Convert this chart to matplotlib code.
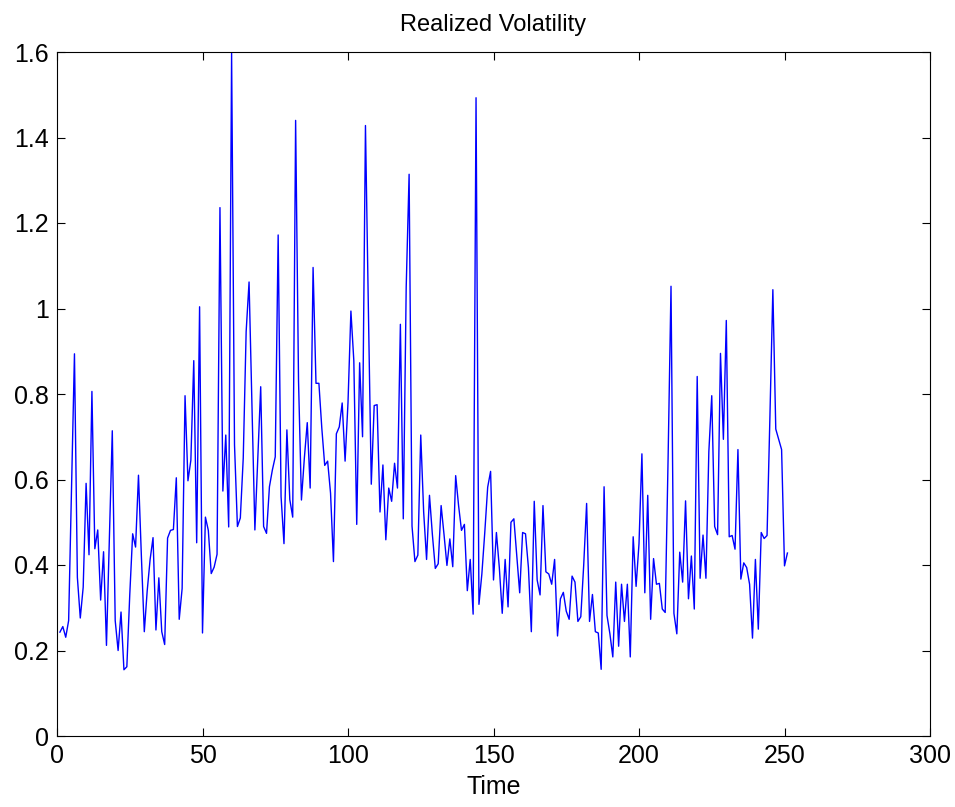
import matplotlib
matplotlib.use("Agg")
import matplotlib.pyplot as plt
import numpy as np
from matplotlib.ticker import FuncFormatter

plt.rcParams['font.family'] = ['Liberation Sans', 'DejaVu Sans']

title = "Realized Volatility"
xlabel = "Time"
xticks = [0, 50, 100, 150, 200, 250, 300]
yticks = [0, 0.2, 0.4, 0.6, 0.8, 1.0, 1.2, 1.4, 1.6]

vol_1_55 = [0.243, 0.256, 0.231, 0.27, 0.58, 0.894, 0.371, 0.276, 0.348, 0.591,
            0.424, 0.806, 0.438, 0.482, 0.318, 0.431, 0.212, 0.46, 0.714, 0.27,
            0.2, 0.29, 0.155, 0.162, 0.33, 0.473, 0.442, 0.61,
            0.42, 0.244, 0.34, 0.413, 0.464, 0.248, 0.37, 0.244, 0.214, 0.463,
            0.481, 0.483, 0.604, 0.273, 0.345, 0.796, 0.597, 0.645, 0.878, 0.452,
            1.004, 0.241, 0.512, 0.481, 0.38, 0.395, 0.425]
vol_56_111 = [1.236, 0.573, 0.704, 0.489, 1.597, 0.681, 0.49, 0.51, 0.65, 0.946,
              1.062, 0.77, 0.482, 0.65, 0.817, 0.49, 0.474, 0.583, 0.622, 0.653,
              1.172, 0.56, 0.45, 0.716, 0.553, 0.512, 1.44, 0.83,
              0.552, 0.65, 0.733, 0.58, 1.096, 0.825, 0.825, 0.72, 0.633, 0.643,
              0.568, 0.408, 0.707, 0.723, 0.779, 0.643, 0.78, 0.994, 0.878, 0.495,
              0.873, 0.70, 1.428, 1.0, 0.589, 0.773, 0.775, 0.524]
vol_112_166 = [0.634, 0.459, 0.58, 0.549, 0.638, 0.58, 0.963, 0.508, 1.05, 1.314,
               0.491, 0.408, 0.423, 0.704, 0.524, 0.413, 0.563, 0.471, 0.392, 0.403,
               0.539, 0.471, 0.399, 0.461, 0.396, 0.609, 0.539, 0.481,
               0.495, 0.34, 0.413, 0.285, 1.493, 0.308, 0.379, 0.476, 0.582, 0.619,
               0.365, 0.476, 0.394, 0.287, 0.413, 0.302, 0.5, 0.508, 0.423, 0.335,
               0.476, 0.473, 0.394, 0.244, 0.549, 0.365, 0.33]
vol_167_222 = [0.539, 0.384, 0.379, 0.355, 0.413, 0.234, 0.321, 0.336, 0.292, 0.273,
               0.374, 0.36, 0.268, 0.279, 0.40, 0.544, 0.268, 0.331, 0.244, 0.241,
               0.156, 0.583, 0.282, 0.239, 0.185, 0.36, 0.21, 0.355,
               0.268, 0.355, 0.185, 0.466, 0.35, 0.45, 0.66, 0.335, 0.563, 0.273,
               0.415, 0.355, 0.357, 0.297, 0.289, 0.65, 1.052, 0.287, 0.239, 0.43,
               0.36, 0.55, 0.321, 0.421, 0.297, 0.841, 0.369, 0.47]
vol_223_251 = [0.369, 0.665, 0.796, 0.49, 0.471, 0.895, 0.694, 0.972, 0.466, 0.469,
               0.437, 0.67, 0.367, 0.405, 0.394, 0.355, 0.229, 0.413, 0.25, 0.476,
               0.462, 0.469, 0.75, 1.044, 0.718, 0.694, 0.67, 0.398, 0.428]

volatility = vol_1_55 + vol_56_111 + vol_112_166 + vol_167_222 + vol_223_251
time = np.arange(1, len(volatility) + 1)

fig = plt.figure(figsize=(9.55, 8.07), dpi=100)
ax = fig.add_axes([57 / 955, 1 - 736 / 807, (930 - 57) / 955, (736 - 52) / 807])
ax.plot(time, volatility, color=(0, 0, 1), linewidth=1.0)

ax.set_xlim(0, 300)
ax.set_ylim(0, 1.6)
ax.set_xticks(xticks)
ax.set_yticks(yticks)
ax.yaxis.set_major_formatter(FuncFormatter(lambda v, p: "%g" % round(v, 2)))
ax.tick_params(direction='in', length=6, width=0.8, top=True, right=True,
               labelsize=18, pad=6, colors='black')
for s in ax.spines.values():
    s.set_linewidth(0.8)
ax.set_title(title, fontsize=17, pad=15)
ax.set_xlabel(xlabel, fontsize=18, labelpad=5)

fig.savefig("out.png", dpi=100)
